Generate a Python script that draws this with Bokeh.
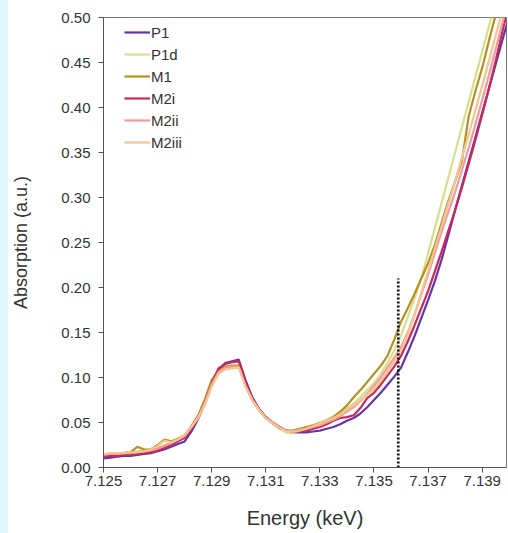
from bokeh.plotting import figure
from bokeh.layouts import row
from bokeh.models import Range1d, FixedTicker, PrintfTickFormatter, Legend, LegendItem, Div
from bokeh.embed import file_html
from bokeh.resources import INLINE

energy = [7.12500, 7.12525, 7.12550, 7.12575, 7.12600, 7.12625, 7.12650, 7.12675,
          7.12700, 7.12725, 7.12750, 7.12775, 7.12800, 7.12825, 7.12850, 7.12875,
          7.12900, 7.12925, 7.12950, 7.12975, 7.13000, 7.13025, 7.13050, 7.13075,
          7.13100, 7.13125, 7.13150, 7.13175, 7.13200, 7.13225, 7.13250, 7.13275,
          7.13300, 7.13325, 7.13350, 7.13375, 7.13400, 7.13425, 7.13450, 7.13475,
          7.13500, 7.13525, 7.13550, 7.13575, 7.13600, 7.13625, 7.13650, 7.13675,
          7.13700, 7.13725, 7.13750, 7.13775, 7.13800, 7.13825, 7.13850, 7.13875,
          7.13900, 7.13925, 7.13950, 7.13975, 7.14000]

P1 = [0.010, 0.011, 0.012, 0.013, 0.013, 0.014, 0.015, 0.016, 0.018, 0.020, 0.023, 0.026, 0.029,
      0.040, 0.054, 0.071, 0.092, 0.108, 0.116, 0.118, 0.120, 0.097, 0.078, 0.065, 0.056,
      0.050, 0.045, 0.041, 0.039, 0.039, 0.039, 0.040, 0.041, 0.043, 0.045, 0.048, 0.052,
      0.055, 0.060, 0.067, 0.075, 0.083, 0.092, 0.101, 0.111,
      0.128, 0.146, 0.166, 0.186, 0.207, 0.231, 0.258, 0.286, 0.313, 0.340, 0.367, 0.394,
      0.421, 0.448, 0.475, 0.502]

P1d = [0.014, 0.015, 0.016, 0.016, 0.017, 0.018, 0.019, 0.020, 0.022, 0.025, 0.028, 0.031, 0.035,
       0.045, 0.056, 0.073, 0.094, 0.108, 0.112, 0.114, 0.114, 0.092, 0.075, 0.064, 0.055,
       0.049, 0.043, 0.039, 0.038, 0.041, 0.044, 0.047, 0.050, 0.053, 0.057, 0.061, 0.066,
       0.071, 0.078, 0.086, 0.094, 0.104, 0.116, 0.130, 0.147,
       0.167, 0.188, 0.210, 0.238, 0.266, 0.294, 0.322, 0.350, 0.378, 0.406, 0.434, 0.462,
       0.490, 0.518, 0.546, 0.574]

M1 = [0.013, 0.014, 0.015, 0.016, 0.017, 0.023, 0.020, 0.020, 0.025, 0.031, 0.029, 0.032, 0.036,
      0.046, 0.058, 0.076, 0.097, 0.108, 0.112, 0.113, 0.113, 0.091, 0.075, 0.064, 0.055,
      0.049, 0.044, 0.041, 0.041, 0.043, 0.045, 0.047, 0.049, 0.052, 0.056, 0.062, 0.069,
      0.078, 0.086, 0.095, 0.104, 0.113, 0.124, 0.142, 0.162,
      0.177, 0.193, 0.210, 0.227, 0.247, 0.272, 0.296, 0.318, 0.340, 0.390, 0.418, 0.444,
      0.474, 0.503, 0.530, 0.556]

M2i = [0.012, 0.013, 0.013, 0.014, 0.014, 0.015, 0.016, 0.017, 0.019, 0.022, 0.025, 0.029, 0.033,
       0.043, 0.055, 0.072, 0.093, 0.110, 0.115, 0.117, 0.118, 0.095, 0.077, 0.065, 0.056,
       0.050, 0.045, 0.041, 0.040, 0.040, 0.041, 0.043, 0.045, 0.048, 0.052, 0.055, 0.056,
       0.058, 0.066, 0.077, 0.083, 0.092, 0.102, 0.112, 0.124,
       0.140, 0.158, 0.177, 0.196, 0.218, 0.240, 0.263, 0.286, 0.311, 0.337, 0.364, 0.392,
       0.421, 0.452, 0.485, 0.515]

M2ii = [0.014, 0.015, 0.015, 0.016, 0.016, 0.017, 0.018, 0.019, 0.021, 0.024, 0.027, 0.031, 0.035,
        0.045, 0.056, 0.072, 0.092, 0.106, 0.111, 0.112, 0.112, 0.091, 0.075, 0.064, 0.055,
        0.050, 0.045, 0.041, 0.040, 0.042, 0.043, 0.045, 0.047, 0.050, 0.053, 0.057, 0.062,
        0.067, 0.074, 0.082, 0.091, 0.100, 0.111, 0.122, 0.134,
        0.150, 0.170, 0.192, 0.214, 0.238, 0.262, 0.284, 0.306, 0.330, 0.355, 0.381, 0.408,
        0.436, 0.465, 0.494, 0.524]

M2iii = [0.015, 0.016, 0.016, 0.016, 0.017, 0.017, 0.018, 0.020, 0.024, 0.030, 0.028, 0.031, 0.036,
         0.045, 0.055, 0.070, 0.090, 0.104, 0.109, 0.110, 0.111, 0.090, 0.075, 0.064, 0.055,
         0.049, 0.044, 0.040, 0.040, 0.041, 0.043, 0.046, 0.049, 0.052, 0.055, 0.059, 0.064,
         0.069, 0.075, 0.081, 0.087, 0.096, 0.106, 0.118, 0.130,
         0.148, 0.170, 0.194, 0.218, 0.243, 0.268, 0.293, 0.318, 0.344, 0.370, 0.397, 0.424,
         0.452, 0.480, 0.508, 0.536]

series_names = ["P1", "P1d", "M1", "M2i", "M2ii", "M2iii"]
series_values = [P1, P1d, M1, M2i, M2ii, M2iii]
series_colors = ["#6534a6", "#d8df8c", "#b3921e", "#c8285c", "#f09c9c", "#f6c391"]

x_ticks = [7.125, 7.127, 7.129, 7.131, 7.133, 7.135, 7.137, 7.139]
y_ticks = [0.00, 0.05, 0.10, 0.15, 0.20, 0.25, 0.30, 0.35, 0.40, 0.45, 0.50]

marker_energy = 7.1359
marker_top = 0.21

FONT = "Liberation Sans"

fig = figure(width=500, height=533, output_backend="svg", toolbar_location=None,
             x_range=Range1d(7.125, 7.1399), y_range=Range1d(0.0, 0.5),
             min_border_left=89, min_border_right=2, min_border_top=17, min_border_bottom=66,
             margin=(0, 0, 0, 0))
fig.background_fill_color = "white"
fig.border_fill_color = "white"
fig.outline_line_color = "#777777"
fig.outline_line_width = 1
fig.xgrid.visible = False
fig.ygrid.visible = False

items = []
for name, vals, col in zip(series_names, series_values, series_colors):
    r = fig.line(energy, vals, line_color=col, line_width=2.2)
    items.append(LegendItem(label=name, renderers=[r]))

fig.segment(x0=[marker_energy], y0=[0.0], x1=[marker_energy], y1=[marker_top],
            line_color="black", line_width=2.5, line_dash="2 2")

legend = Legend(items=items, location=(19, 313), border_line_alpha=0,
                background_fill_alpha=0, glyph_width=26, glyph_height=20,
                label_height=20, spacing=2, padding=2, label_standoff=1,
                label_text_font_size="15px", label_text_font=FONT,
                label_text_color="#333333")
fig.add_layout(legend)

for ax in (fig.xaxis, fig.yaxis):
    ax.axis_line_color = "#555555"
    ax.major_tick_line_color = "#555555"
    ax.minor_tick_line_color = None
    ax.major_tick_in = 0
    ax.major_tick_out = 5
    ax.major_label_text_font = FONT
    ax.major_label_text_font_size = "15px"
    ax.major_label_text_color = "#333333"
    ax.axis_label_text_font = FONT
    ax.axis_label_text_font_style = "normal"
    ax.axis_label_text_color = "#333333"

fig.xaxis.axis_label_text_font_size = "20px"
fig.yaxis.axis_label_text_font_size = "18px"
fig.xaxis.ticker = FixedTicker(ticks=x_ticks)
fig.yaxis.ticker = FixedTicker(ticks=y_ticks)
fig.xaxis.formatter = PrintfTickFormatter(format="%.3f")
fig.yaxis.formatter = PrintfTickFormatter(format="%.2f")
fig.xaxis.axis_label = "Energy (keV)"
fig.yaxis.axis_label = "Absorption (a.u.)"
fig.xaxis.major_label_standoff = 3
fig.yaxis.major_label_standoff = 8
fig.xaxis.axis_label_standoff = 18
fig.yaxis.axis_label_standoff = 27

strip = Div(width=8, height=533, margin=(0, 0, 0, 0),
            styles={"background-color": "#dff6fb"})
p = row(strip, fig, spacing=0)

open("out.html", "w").write(file_html(p, INLINE))
